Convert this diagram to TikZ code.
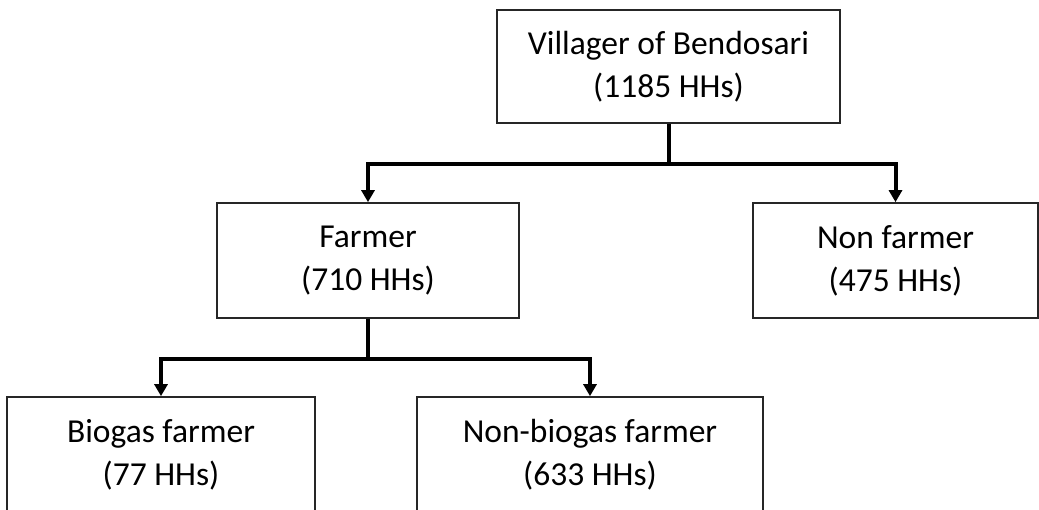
\documentclass[tikz,border=0pt]{standalone}
\usepackage{fontspec}
\setmainfont{Carlito}
\usetikzlibrary{arrows.meta}

\begin{document}
\begin{tikzpicture}[
   x=1pt,y=-1pt,
   font=\fontsize{33.5}{43}\selectfont,
   box/.style={draw=black!85,line width=1.7pt,align=center,inner sep=0pt,minimum height=115pt},
   to/.style={-{Triangle[width=13pt,length=12pt]},line width=4pt},
   every node/.style={text=black}]
\useasboundingbox[fill=white] (0,0) rectangle (1039,509);
\node[box,minimum width=343pt,minimum height=113pt] (V) at (668.5,66.5) {Villager of Bendosari\\(1185 HHs)};
\node[box,minimum width=302pt] (F) at (368,260.5) {Farmer\\(710 HHs)};
\node[box,minimum width=285pt] (N) at (895.5,260.5) {Non farmer\\(475 HHs)};
\node[box,minimum width=308pt] (B) at (161,454.5) {Biogas farmer\\(77 HHs)};
\node[box,minimum width=346pt] (NB) at (590,454.5) {Non-biogas farmer\\(633 HHs)};
\draw[to] (V.south) -- ++(0,40) -| (F.north);
\draw[to] (V.south) -- ++(0,40) -| (N.north);
\draw[to] (F.south) -- ++(0,40) -| (B.north);
\draw[to] (F.south) -- ++(0,40) -| (NB.north);
\end{tikzpicture}
\end{document}
